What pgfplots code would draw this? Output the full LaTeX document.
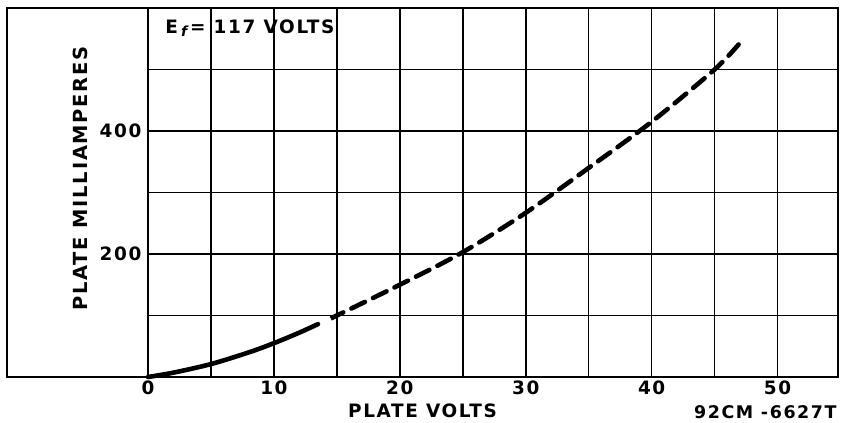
\documentclass[border=0pt]{standalone}
\usepackage{fontspec}
\setmainfont{DejaVu Sans}[LetterSpace=9]
\usepackage{pgfplots}
\pgfplotsset{compat=1.18}
\begin{document}
\begin{tikzpicture}
\begin{axis}[
  scale only axis,
  width=831bp, height=369bp,
  xmin=-11.2, xmax=54.8, ymin=0, ymax=600,
  clip=false,
  axis line style={line width=2.8bp},
  xtick={0,5,...,50},
  xticklabels={0,,10,,20,,30,,40,,50},
  ytick=\empty,
  major tick length=0pt,
  xmajorgrids,
  grid style={black, line width=1.5bp},
  /pgf/number format/assume math mode=true,
  every tick label/.append style={font=\bfseries\fontsize{18.5}{18.5}\selectfont, inner sep=4bp},
]
% horizontal grid lines (only right of x=0)
\foreach \yy in {100,200,300,400,500}{
  \edef\tmp{\noexpand\draw[black, line width=1.5bp] (axis cs:0,\yy) -- (axis cs:54.8,\yy);}
  \tmp
}
% measured curve (solid part)
\addplot[black, line width=4.6bp, line cap=round, smooth] coordinates {
 (0,0) (2,7) (5,21) (8,40) (10,55) (12,72) (13.5,86)
};
% extrapolated part (dashed)
\addplot[black, line width=4.6bp, line cap=round, smooth, dash pattern=on 15bp off 9bp] coordinates {
 (14.6,96) (15,100) (20,150) (25,203) (30,267) (35,340) (40,415) (45,500) (47,543)
};
\node[anchor=east, font=\bfseries\fontsize{18.5}{18.5}\selectfont] at (axis cs:0,400) [xshift=-3bp] {400};
\node[anchor=east, font=\bfseries\fontsize{18.5}{18.5}\selectfont] at (axis cs:0,200) [xshift=-3bp] {200};
\node[rotate=90, font=\bfseries\fontsize{19.5}{19.5}\selectfont] at (axis cs:-5.4,323) {PLATE MILLIAMPERES};
\node[font=\bfseries\fontsize{18.5}{18.5}\selectfont] at (axis cs:21.8,0) [yshift=-34bp] {PLATE VOLTS};
\node[anchor=east, font=\bfseries\fontsize{17.5}{17.5}\selectfont] at (axis cs:54.8,0) [yshift=-35bp, xshift=2bp] {92CM -6627T};
\node[anchor=west, font=\bfseries\fontsize{18.5}{18.5}\selectfont] at (axis cs:1.1,600) [yshift=-20bp] {E\,\raisebox{-0.35ex}{\fontsize{14}{14}\selectfont\itshape f}\,= 117 VOLTS};
\end{axis}
\path (current axis.south west) ++(-7bp,-46bp) rectangle ++(841bp,423bp);
\end{tikzpicture}
\end{document}
